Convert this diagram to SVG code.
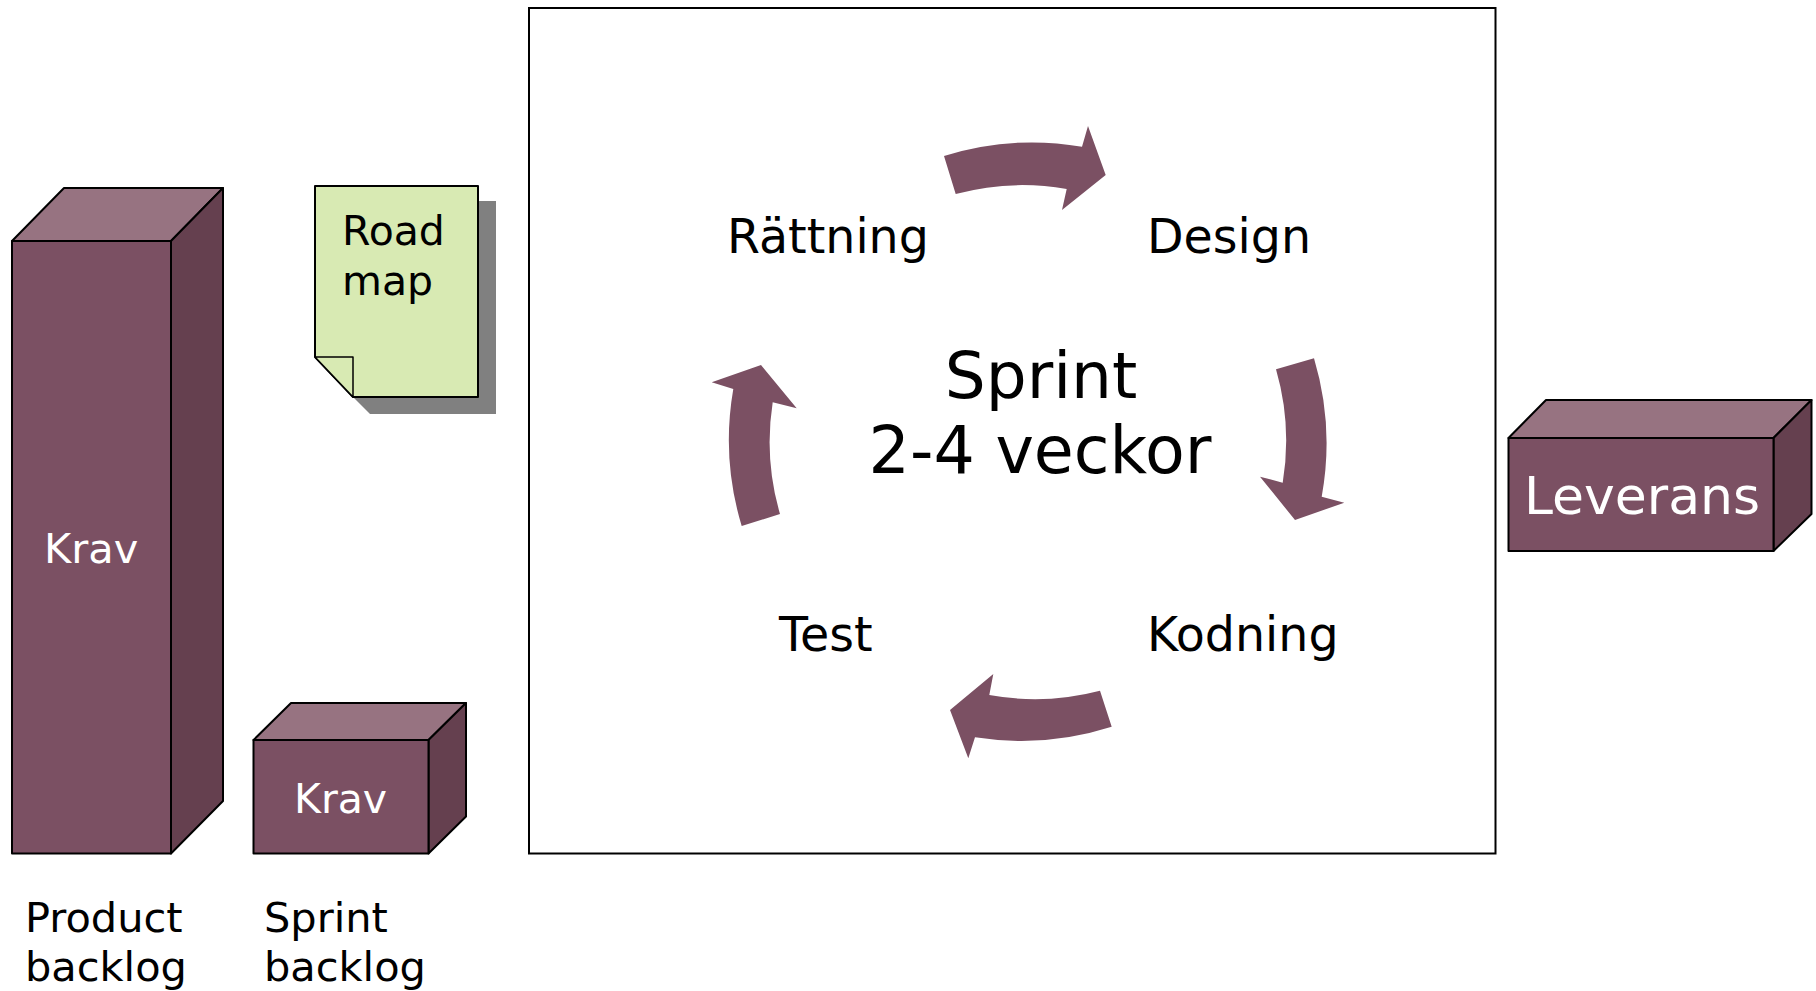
<svg xmlns="http://www.w3.org/2000/svg" width="1816" height="991" viewBox="0 0 1816 991">
<style>
text{font-family:"DejaVu Sans","Verdana",sans-serif;}
.front{fill:#7b5063;stroke:#000;stroke-width:2;stroke-linejoin:round}
.top{fill:#977381;stroke:#000;stroke-width:2;stroke-linejoin:round}
.side{fill:#65404f;stroke:#000;stroke-width:2;stroke-linejoin:round}
.wt{fill:#fff}
.bk{fill:#000}
.arr{fill:#7b5063}
</style>
<rect width="1816" height="991" fill="#fff"/>
<g id="sprint-frame">
<rect x="529" y="8" width="966.5" height="845.5" fill="#fff" stroke="#000" stroke-width="2"/>
</g>
<g id="product-backlog">
<polygon class="top" points="12,241 64,188 223,188 171,241"/>
<polygon class="side" points="171,241 223,188 223,801 171,853.5"/>
<rect class="front" x="12" y="241" width="159" height="612.5"/>
<text class="wt" x="44" y="563" font-size="41.5">Krav</text>
</g>
<g id="sprint-backlog">
<polygon class="top" points="253.5,740 291,703 466,703 428.5,740"/>
<polygon class="side" points="428.5,740 466,703 466,816.5 428.5,853.5"/>
<rect class="front" x="253.5" y="740" width="175" height="113.5"/>
<text class="wt" x="294" y="813" font-size="41">Krav</text>
</g>
<g id="road-map">
<polygon fill="#808080" points="331,201 496,201 496,414 370,414 331,375"/>
<polygon fill="#d8eab3" stroke="#000" stroke-width="2" stroke-linejoin="round" points="315,186 478,186 478,397 353,397 315,357"/>
<polygon fill="#d8eab3" stroke="#000" stroke-width="1.5" stroke-linejoin="round" points="315,357 353,357 353,397"/>
<text class="bk" x="342" y="245" font-size="41">Road</text>
<text class="bk" x="342" y="295" font-size="41">map</text>
</g>
<g id="leverans">
<polygon class="top" points="1508.5,438 1546,400 1811.5,400 1773.5,438"/>
<polygon class="side" points="1773.5,438 1811.5,400 1811.5,514 1773.5,551"/>
<rect class="front" x="1508.5" y="438" width="265" height="113"/>
<text class="wt" x="1524" y="514" font-size="52">Leverans</text>
</g>
<g id="sprint-label">
<text class="bk" x="1041" y="398" font-size="64.5" text-anchor="middle">Sprint</text>
<text class="bk" x="1040" y="473" font-size="65" text-anchor="middle">2-4 veckor</text>
</g>
<g id="rattning"><text class="bk" x="727" y="252.5" font-size="47.5">Rättning</text></g>
<g id="design"><text class="bk" x="1147" y="252.5" font-size="47.5">Design</text></g>
<g id="kodning"><text class="bk" x="1147" y="651" font-size="47.5">Kodning</text></g>
<g id="test"><text class="bk" x="779" y="651" font-size="47.5">Test</text></g>
<g id="connectors">
<path class="arr" d="M944,156 A297,297 0 0 1 1082,146.7 L1088,126 L1105.7,175 L1062,210 L1066.7,189 A257,257 0 0 0 955.7,194 Z"/>
<path class="arr" d="M1314,358.3 A297,297 0 0 1 1321.7,496.7 L1344.3,502.7 L1295,520 L1260,476.7 L1282.7,482.7 A257,257 0 0 0 1276,369.3 Z"/>
<path class="arr" d="M1111.7,726.7 A297,297 0 0 1 975,737.3 L968.3,758.3 L950,710 L993.3,674 L989.3,695 A257,257 0 0 0 1100,690.7 Z"/>
<path class="arr" d="M741.7,526 A297,297 0 0 1 733.3,389 L711.7,382.3 L761,365 L796.7,408.3 L772.7,402.3 A257,257 0 0 0 780,514 Z"/>
</g>
<g id="product-backlog-label">
<text class="bk" x="25" y="932" font-size="41.5">Product</text>
<text class="bk" x="25" y="981" font-size="41.5">backlog</text>
</g>
<g id="sprint-backlog-label">
<text class="bk" x="264" y="932" font-size="41.5">Sprint</text>
<text class="bk" x="264" y="981" font-size="41.5">backlog</text>
</g>
</svg>
